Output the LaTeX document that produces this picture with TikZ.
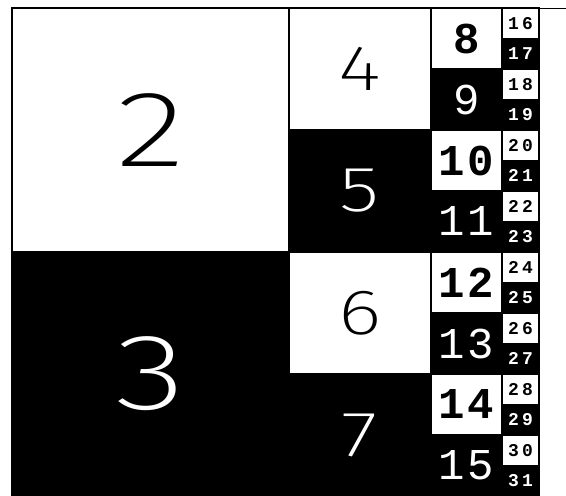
\documentclass[tikz,border=0pt]{standalone}
\usepackage{graphicx}
\usepackage{fontspec}
\newfontfamily\thinfont{Fira Sans ExtraLight}
\newfontfamily\monofont{Liberation Mono}[LetterSpace=6]
\newfontfamily\smallmono{Liberation Mono}[LetterSpace=18]
\newcommand\LoneE[1]{\scalebox{1.35}[1]{\thinfont\fontsize{108}{108}\selectfont #1}}
\newcommand\LtwoE[1]{\scalebox{1.3}[1]{\thinfont\fontsize{64}{64}\selectfont #1}}
\newcommand\LthreeE[1]{{\monofont\bfseries\fontsize{44}{44}\selectfont #1}}
\newcommand\LthreeO[1]{{\monofont\fontsize{44}{44}\selectfont #1}}
\newcommand\LfourE[1]{{\smallmono\bfseries\fontsize{18}{18}\selectfont #1}}
\begin{document}
\begin{tikzpicture}[x=1pt,y=-1pt]
\useasboundingbox (0,0) rectangle (566,496);
\tikzset{
  cellbase/.style={rectangle,draw=black,line width=1.6pt,inner sep=0pt,outer sep=0pt,anchor=north west},
  whitecell/.style={cellbase,fill=white,text=black},
  blackcell/.style={cellbase,fill=black,text=white},
  frame/.style={draw=black,line width=1pt}
}
\foreach \k/\xl/\xr/\h/\fe/\fo in {1/12/289/244/\LoneE/\LoneE, 2/289/431/122/\LtwoE/\LtwoE, 3/431/502/61/\LthreeE/\LthreeO, 4/502/539/30.5/\LfourE/\LfourE} {
  \pgfmathtruncatemacro\first{2^\k}
  \pgfmathtruncatemacro\last{2^(\k+1)-1}
  \foreach \n in {\first,...,\last} {
    \pgfmathsetmacro\yt{8+(\n-\first)*\h}
    \pgfmathsetmacro\cellwd{\xr-\xl}
    \ifodd\n \def\sty{blackcell}\def\tcol{white}\let\ff\fo\else\def\sty{whitecell}\def\tcol{black}\let\ff\fe\fi
    \node[\sty,minimum width=\cellwd pt,minimum height=\h pt] (c\n) at (\xl,\yt) {};
    \node[text=\tcol,inner sep=0pt] (t\n) at (c\n.center) {\ff{\n}};
  }
}
\draw[frame] (12,8) -- (566,8);
\draw[frame] (12,8) -- (12,496);
\draw[frame] (539,8) -- (539,496);
\end{tikzpicture}
\end{document}
